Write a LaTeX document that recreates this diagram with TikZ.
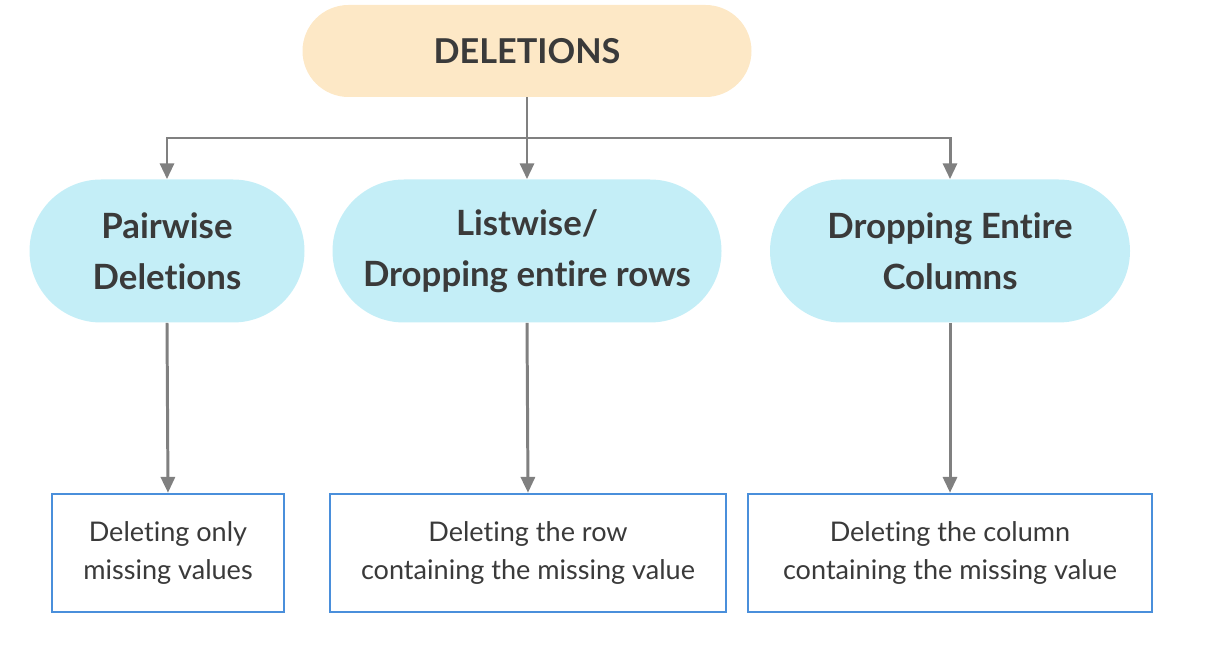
\documentclass[tikz,border=0pt]{standalone}
\usepackage{fontspec}
\setmainfont[Ligatures=NoCommon]{Lato}
\usetikzlibrary{arrows.meta, positioning}
\definecolor{headfill}{HTML}{FDE8C6}
\definecolor{wayfill}{HTML}{C4EEF7}
\definecolor{boxline}{HTML}{4A8FDB}
\definecolor{wire}{HTML}{808080}
\definecolor{ink}{HTML}{3A3A3A}

\begin{document}
\begin{tikzpicture}[
    every node/.style={text=ink, align=center},
    head/.style={fill=headfill, rounded corners=0.92cm, minimum width=8.98cm,
        minimum height=1.84cm, font=\fontsize{19.5}{23}\selectfont\bfseries},
    way/.style={fill=wayfill, rounded corners=1.43cm, minimum height=2.86cm,
        font=\fontsize{19.8}{29}\selectfont\bfseries},
    leaf/.style={draw=boxline, line width=1.4pt, fill=white, minimum height=2.36cm,
        font=\fontsize{15.4}{21.5}\selectfont},
    link/.style={draw=wire, line width=1.7pt, -{Triangle[length=9pt, width=8pt]}},
]

\useasboundingbox (0,0) rectangle (24.1,13.16);

% the root
\node[head] (del) at (10.54, 12.14) {DELETIONS};

% the three ways of deleting
\node[way, minimum width=5.50cm] (pair) at (3.34, 8.14) {Pairwise\\Deletions};
\node[way, minimum width=7.78cm] (list) at (10.54, 8.14) {Listwise/\\Dropping entire rows};
\node[way, minimum width=7.20cm] (cols) at (19.00, 8.14) {Dropping Entire\\Columns};

% what each one does
\node[leaf, minimum width=4.64cm] (pairtxt) at (3.36, 2.10)
    {Deleting only\\missing values};
\node[leaf, minimum width=7.92cm] (listtxt) at (10.56, 2.10)
    {Deleting the row\\containing the missing value};
\node[leaf, minimum width=8.08cm] (colstxt) at (19.00, 2.10)
    {Deleting the column\\containing the missing value};

% connectors
\coordinate (bus) at (10.54, 10.40);
\draw[draw=wire, line width=1.7pt] (del.south) -- (bus);
\draw[link] (bus) -| (pair.north);
\draw[link] (bus) -- (list.north);
\draw[link] (bus) -| (cols.north);

\draw[link] (pair.south) -- (pairtxt.north);
\draw[link] (list.south) -- (listtxt.north);
\draw[link] (cols.south) -- (colstxt.north);

\end{tikzpicture}
\end{document}
